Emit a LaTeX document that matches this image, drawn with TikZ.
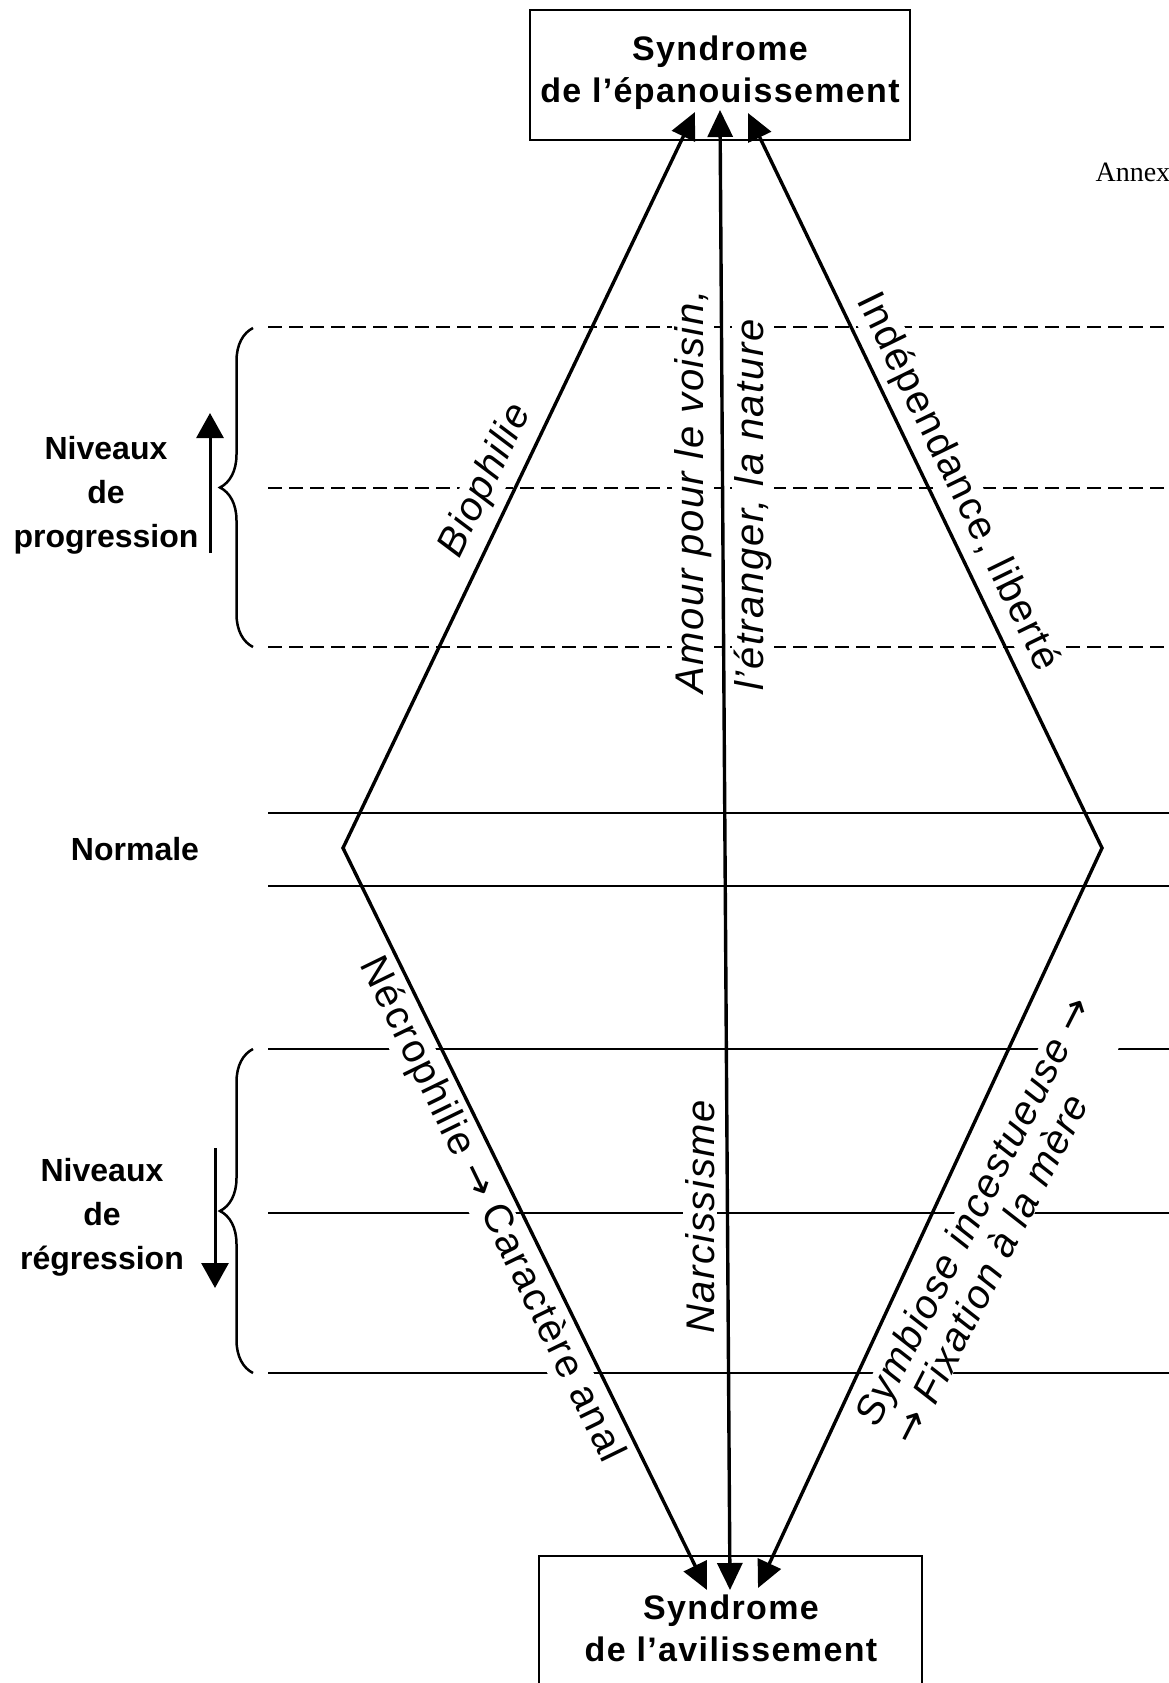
\documentclass[tikz,border=0pt]{standalone}
\usepackage{fontspec}
\setmainfont{Liberation Sans}
\newfontfamily\annexfont{Liberation Serif}
\newfontfamily\tagfont[LetterSpace=4]{Liberation Sans}
\newfontfamily\titlefont[LetterSpace=4]{Liberation Sans}
\newfontfamily\arrfont{DejaVu Sans}
\usetikzlibrary{arrows.meta,decorations.pathreplacing}

\tikzset{
  bigarrow/.style={line width=3.4pt,{Triangle[length=27pt,width=25pt]}-{Triangle[length=27pt,width=25pt]}},
  sidearrow/.style={line width=3pt,-{Triangle[length=25pt,width=27pt]}},
  level/.style={line width=2.4pt},
  levelhalf/.style={line width=2.2pt,dash pattern=on 14pt off 7pt},
  frame/.style={draw,line width=2.2pt},
  title/.style={font=\titlefont\bfseries\fontsize{34}{42}\selectfont,align=center},
  side/.style={font=\bfseries\fontsize{32}{44}\selectfont,align=center},
  tag/.style={font=\tagfont\fontsize{40}{42}\selectfont,inner sep=2pt,fill=white},
  tagit/.style={tag,font=\tagfont\itshape\fontsize{40}{42}\selectfont},
  sidebrace/.style={decorate,decoration={brace,amplitude=33pt},line width=2.5pt}
}

\begin{document}
\begin{tikzpicture}[x=1pt,y=-1pt]
\useasboundingbox (0,0) rectangle (1168,1683);

% niveaux
\foreach \y in {327,488,647}
  \draw[levelhalf] (268,\y) -- (1180,\y);
\foreach \y in {813,886,1049,1213,1373}
  \draw[level] (268,\y) -- (1180,\y);

% les deux syndromes
\node[frame,minimum width=380,minimum height=130] (top) at (720,75) {};
\node[title] (toptxt) at (720,73) {Syndrome\\de l’épanouissement};
\node[frame,anchor=north,minimum width=383,minimum height=200] (bot) at (730.5,1555) {};
\node[title] (bottxt) at (731,1628) {Syndrome\\de l’avilissement};

% cote gauche
\node[side] (prog) at (106,495) {Niveaux\\de\\progression};
\node[side] (normale) at (135,849) {Normale};
\node[side] (regr) at (102,1217) {Niveaux\\de\\régression};
\coordinate (pa) at (210,553);
\coordinate (pb) at (210,413);
\coordinate (ra) at (215,1148);
\coordinate (rb) at (215,1288);
\draw[sidearrow] (pa) -- (pb);
\draw[sidearrow] (ra) -- (rb);
\draw[sidebrace] (253,647) -- (253,328);
\draw[sidebrace] (253,1373) -- (253,1049);

\node[font=\annexfont\fontsize{28}{28}\selectfont,anchor=base west] (annexe) at (1092,181) {Annexe};

% orientations
\node[tagit,rotate=64] (bio) at (486,481) {Biophilie};
\node[tagit,rotate=90] (amour) at (693,492) {Amour pour le voisin,};
\node[tagit,rotate=90] (etranger) at (753,505) {l’étranger, la nature};
\node[tag,rotate=-64] (indep) at (957,482) {Indépendance, liberté};
\node[tag,rotate=-64] (necro) at (491,1210) {Nécrophilie {\arrfont→} Caractère anal};
\node[tagit,rotate=90] (narc) at (700,1217) {Narcissisme};
\node[tagit,rotate=63,align=left,inner sep=0pt] (symb) at (991,1220) {Symbiose incestueuse {\arrfont→}\\{\arrfont→} Fixation à la mère};

% losange
\coordinate (L) at (343,848);
\coordinate (R) at (1102,848);
\coordinate (tl) at (695,112);
\coordinate (tm) at (720,110);
\coordinate (tr) at (748,113);
\coordinate (bl) at (707,1590);
\coordinate (bm) at (730,1590);
\coordinate (br) at (758,1588);
\draw[bigarrow] (tl) -- (L) -- (bl);
\draw[bigarrow] (tr) -- (R) -- (br);
\draw[bigarrow] (tm) -- (bm);
\end{tikzpicture}
\end{document}
